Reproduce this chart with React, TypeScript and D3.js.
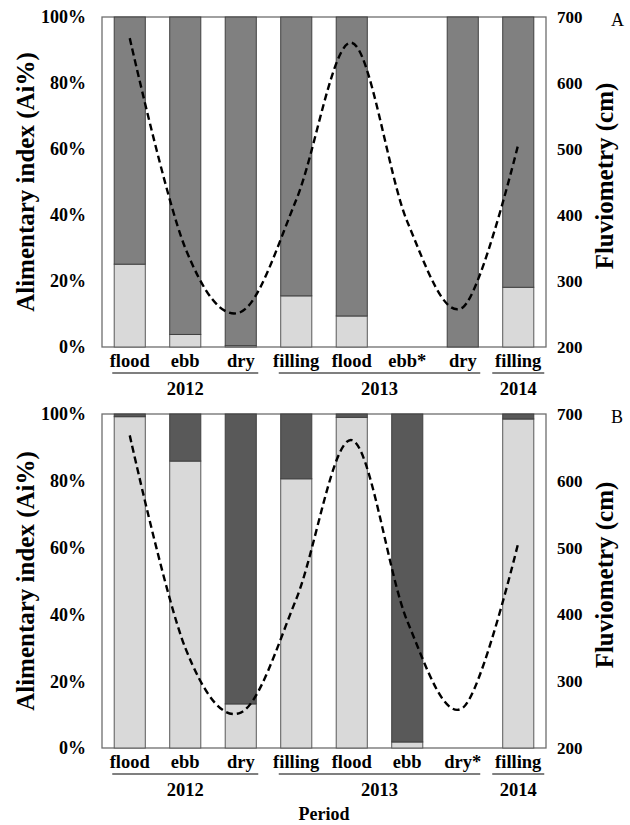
import React from "react";
import * as d3 from "d3";

const categoriesA = ["flood", "ebb", "dry", "filling", "flood", "ebb*", "dry", "filling"];
const categoriesB = ["flood", "ebb", "dry", "filling", "flood", "ebb", "dry*", "filling"];
const years = ["2012", "2013", "2014"];
const yearFirst = [0, 3, 7];
const yearLast = [2, 6, 7];
const lightA: (number | null)[] = [25.1, 3.8, 0.4, 15.5, 9.4, null, 0, 18.1];
const darkA: (number | null)[] = [74.9, 96.2, 99.6, 84.5, 90.6, null, 100, 81.9];
const lightB: (number | null)[] = [99.2, 85.9, 13.2, 80.6, 99.0, 1.8, null, 98.5];
const darkB: (number | null)[] = [0.8, 14.1, 86.8, 19.4, 1.0, 98.2, null, 1.5];
const fluviometry = [668, 350, 253, 423, 661, 390, 260, 507];
const pctTicks = [0, 20, 40, 60, 80, 100];
const cmTicks = [200, 300, 400, 500, 600, 700];

const FONT = "'Liberation Serif', 'Times New Roman', serif";
const LEFT = 102;
const RIGHT = 546;

type PanelProps = {
  top: number;
  bottom: number;
  cats: string[];
  light: (number | null)[];
  dark: (number | null)[];
  darkColor: string;
  letter: string;
};

function Panel({ top, bottom, cats, light, dark, darkColor, letter }: PanelProps) {
  const idx = cats.map((_, i) => String(i));
  const x = d3.scaleBand<string>().domain(idx).range([LEFT, RIGHT]).paddingInner(0.44).paddingOuter(0.22);
  const step = x.step();
  const xs = d3.scaleBand<string>().domain(idx).range([LEFT, RIGHT]).padding(0);
  const yPct = d3.scaleLinear().domain([0, 100]).range([bottom, top]);
  const yCm = d3.scaleLinear().domain([200, 700]).range([bottom, top]);
  const cx = (i: number) => (xs(String(i)) as number) + step / 2;

  const line = d3
    .line<number>()
    .x((_, i) => cx(i))
    .y((d) => yCm(d))
    .curve(d3.curveCardinal.tension(0));

  const mid = (top + bottom) / 2;

  return (
    <g>
      <rect x={LEFT} y={top} width={RIGHT - LEFT} height={bottom - top} fill="#fff" stroke="#6e6e6e" strokeWidth={1.3} />
      {idx.map((k, i) => {
        const l = light[i];
        const d = dark[i];
        if (l === null || d === null) return null;
        const bx = x(k) as number;
        const bw = x.bandwidth();
        return (
          <g key={k}>
            <rect x={bx} y={yPct(l)} width={bw} height={yPct(0) - yPct(l)} fill="#d9d9d9" stroke="#595959" strokeWidth={1} />
            <rect x={bx} y={yPct(l + d)} width={bw} height={yPct(l) - yPct(l + d)} fill={darkColor} stroke="#404040" strokeWidth={1} />
          </g>
        );
      })}
      <path d={line(fluviometry) || ""} fill="none" stroke="#000" strokeWidth={2.4} strokeDasharray="7,4" />
      {pctTicks.map((t) => (
        <text key={t} x={86} y={yPct(t)} dy="0.35em" textAnchor="end" fontFamily={FONT} fontWeight="bold" fontSize={18}>
          {t + "%"}
        </text>
      ))}
      {cmTicks.map((t) => (
        <text key={t} x={557} y={yCm(t)} dy="0.35em" textAnchor="start" fontFamily={FONT} fontWeight="bold" fontSize={17}>
          {t}
        </text>
      ))}
      <text x={611} y={top + 9} textAnchor="start" fontFamily={FONT} fontSize={18}>
        {letter}
      </text>
      <text transform={`translate(34,${mid}) rotate(-90)`} textAnchor="middle" fontFamily={FONT} fontWeight="bold" fontSize={25}>
        Alimentary index (Ai%)
      </text>
      <text transform={`translate(613,${mid - 6}) rotate(-90)`} textAnchor="middle" fontFamily={FONT} fontWeight="bold" fontSize={25}>
        Fluviometry (cm)
      </text>
      {cats.map((c, i) => (
        <text key={i} x={cx(i)} y={bottom + 20} textAnchor="middle" fontFamily={FONT} fontWeight="bold" fontSize={18.5}>
          {c}
        </text>
      ))}
      {years.map((yr, j) => {
        const single = yearFirst[j] === yearLast[j];
        const inset = single ? 26 : 17.5;
        const x1 = cx(yearFirst[j]) - inset;
        const x2 = cx(yearLast[j]) + inset;
        return (
          <g key={yr}>
            <line x1={x1} x2={x2} y1={bottom + 26} y2={bottom + 26} stroke="#555" strokeWidth={1.5} />
            <text x={(x1 + x2) / 2} y={bottom + 48} textAnchor="middle" fontFamily={FONT} fontWeight="bold" fontSize={18.5}>
              {yr}
            </text>
          </g>
        );
      })}
    </g>
  );
}

export default function App() {
  return (
    <svg width={630} height={825} style={{ position: "absolute", left: 0, top: 0, background: "#fff" }}>
      <rect x={0} y={0} width={630} height={825} fill="#fff" />
      <Panel top={17} bottom={347} cats={categoriesA} light={lightA} dark={darkA} darkColor="#808080" letter="A" />
      <Panel top={414} bottom={748} cats={categoriesB} light={lightB} dark={darkB} darkColor="#595959" letter="B" />
      <text x={324} y={820} textAnchor="middle" fontFamily={FONT} fontWeight="bold" fontSize={18}>
        Period
      </text>
    </svg>
  );
}
